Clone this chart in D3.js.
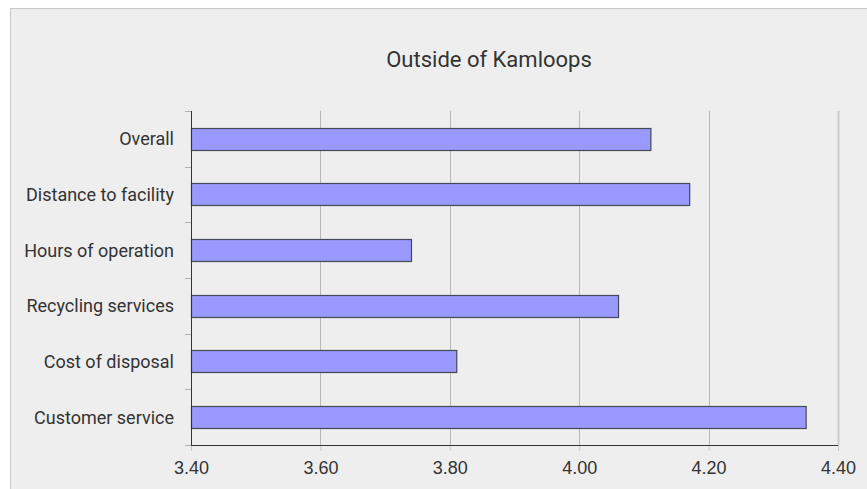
<!DOCTYPE html>
<html>
<head>
<meta charset="utf-8">
<script src="https://cdn.jsdelivr.net/npm/d3@7"></script>
<style>
  body { margin: 0; background: #fff; }
  svg { display: block; font-family: Roboto, "Liberation Sans", Arial, sans-serif; }
  .axis text { fill: #333; font-size: 18px; }
</style>
</head>
<body>
<svg id="chart"></svg>
<script>
// chart data
const categories = ['Overall', 'Distance to facility', 'Hours of operation',
  'Recycling services', 'Cost of disposal', 'Customer service'];
const scores = [4.11, 4.17, 3.74, 4.06, 3.81, 4.35];
const xTicks = [3.4, 3.6, 3.8, 4.0, 4.2, 4.4];
const chartTitle = 'Outside of Kamloops';

const data = categories.map((c, i) => ({ name: c, value: scores[i] }));

const width = 867, height = 489;
const margin = { top: 111, right: 29, bottom: 44, left: 191 };
const innerW = width - margin.left - margin.right;
const innerH = height - margin.top - margin.bottom;

const svg = d3.select('#chart')
    .attr('width', width)
    .attr('height', height);

// panel background + border (top and left only)
svg.append('rect')
    .attr('x', 10).attr('y', 8)
    .attr('width', width - 10).attr('height', height - 8)
    .attr('fill', '#eeeeee');
svg.append('path')
    .attr('d', `M10.5,${height}V8.5H${width}`)
    .attr('fill', 'none')
    .attr('stroke', '#c8c8c8');

const chart = svg.append('g')
    .attr('transform', `translate(${margin.left},${margin.top})`);

const xScale = d3.scaleLinear()
    .domain([3.4, 4.4])
    .range([0, innerW]);

const yScale = d3.scaleBand()
    .domain(categories)
    .range([0, innerH])
    .paddingInner(0.6)
    .paddingOuter(0.3);

// gridlines
chart.append('g')
    .attr('class', 'grid')
  .selectAll('line')
  .data(xTicks.slice(1))
  .join('line')
    .attr('x1', d => Math.round(xScale(d)) + 0.5)
    .attr('x2', d => Math.round(xScale(d)) + 0.5)
    .attr('y1', 0)
    .attr('y2', innerH)
    .attr('stroke', (d, i, n) => i === n.length - 1 ? '#cccccc' : '#b8b8b8')
    .attr('stroke-width', (d, i, n) => i === n.length - 1 ? 2 : 1);

// bars
chart.selectAll('.bar')
  .data(data)
  .join('rect')
    .attr('class', 'bar')
    .attr('x', 0.5)
    .attr('y', d => Math.round(yScale(d.name)) + 0.5)
    .attr('width', d => xScale(d.value))
    .attr('height', Math.round(yScale.bandwidth()))
    .attr('fill', '#9999ff')
    .attr('stroke', '#444a55')
    .attr('stroke-width', 1.2);

// x axis
const xAxis = d3.axisBottom(xScale)
    .tickValues(xTicks)
    .tickSize(6)
    .tickPadding(10)
    .tickFormat(d3.format('.2f'));

const xAxisG = chart.append('g')
    .attr('class', 'axis x-axis')
    .attr('transform', `translate(0,${innerH})`)
    .call(xAxis);
xAxisG.select('.domain').remove();
xAxisG.selectAll('.tick line').attr('stroke', '#c8c8c8');
xAxisG.append('line')
    .attr('x1', 0).attr('x2', innerW)
    .attr('y1', 0.5).attr('y2', 0.5)
    .attr('stroke', '#333');

// y axis: ticks at band boundaries
const yAxisG = chart.append('g').attr('class', 'axis y-axis');
const boundaries = d3.range(categories.length + 1).map(i => i * innerH / categories.length);
yAxisG.selectAll('.ytick')
  .data(boundaries)
  .join('line')
    .attr('class', 'ytick')
    .attr('x1', -6).attr('x2', 0)
    .attr('y1', d => Math.round(d) + 0.5)
    .attr('y2', d => Math.round(d) + 0.5)
    .attr('stroke', '#b0b0b0');
yAxisG.append('line')
    .attr('x1', 0.5).attr('x2', 0.5)
    .attr('y1', 0).attr('y2', innerH)
    .attr('stroke', '#333');
yAxisG.selectAll('.ylabel')
  .data(categories)
  .join('text')
    .attr('class', 'ylabel')
    .attr('x', -17)
    .attr('y', d => yScale(d) + yScale.bandwidth() / 2)
    .attr('dy', '0.37em')
    .attr('text-anchor', 'end')
    .text(d => d);

// title
svg.append('text')
    .attr('x', 489)
    .attr('y', 67)
    .attr('text-anchor', 'middle')
    .attr('fill', '#333')
    .style('font-size', '22px')
    .text(chartTitle);
</script>
</body>
</html>
